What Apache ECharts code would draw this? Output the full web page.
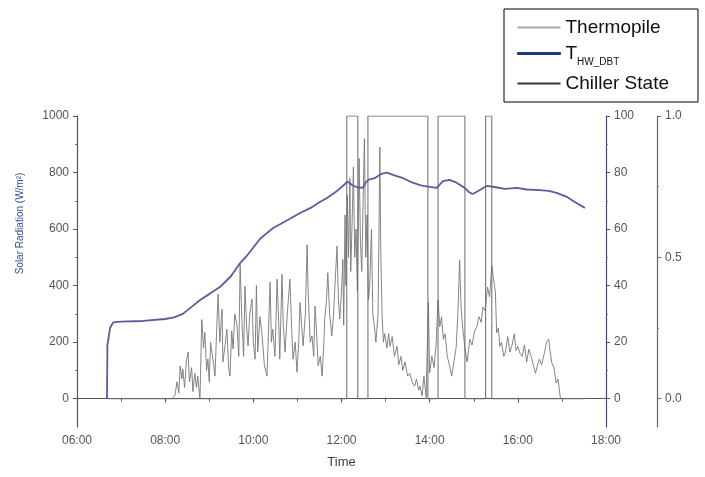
<!DOCTYPE html>
<html>
<head>
<meta charset="utf-8">
<script src="https://cdn.jsdelivr.net/npm/echarts@6/dist/echarts.min.js"></script>
<style>
html,body{margin:0;padding:0;background:#fff;}
#c{width:705px;height:477px;}
</style>
</head>
<body>
<div id="c"></div>
<script>
// ---- data (time in decimal hours) ----
const xTicks = [6, 8, 10, 12, 14, 16, 18];
const leftTicks = [0, 200, 400, 600, 800, 1000];
const rightTicks = [0, 20, 40, 60, 80, 100];
const stateTicks = [0, 0.5, 1.0];

const thermoTime = [8.15,8.22,8.27,8.31,8.34,8.38,8.40,8.44,8.48,8.52,8.55,8.60,8.63,8.67,8.71,8.74,8.78,8.79,
 8.83,8.87,8.90,8.94,8.97,9.00,9.03,9.06,9.10,9.13,9.17,9.20,9.24,9.29,9.31,9.36,9.40,9.44,9.47,9.51,9.54,9.58,9.63,9.67,9.70,9.74,9.78,9.81,9.85,9.88,9.92,9.97,10.00,10.04,10.07,10.10,
 10.15,10.20,10.25,10.31,10.38,10.41,10.44,10.49,10.54,10.58,10.60,10.65,10.68,10.72,10.77,10.83,10.87,10.90,10.95,10.99,11.03,11.06,11.10,11.13,11.18,11.22,11.24,11.29,11.33,11.37,11.40,11.43,11.47,11.52,11.56,11.60,11.62,11.66,11.69,11.73,11.78,11.82,11.85,11.90,11.93,11.96,12.00,12.03,12.05,
 12.08,12.10,12.13,12.16,12.19,12.21,12.24,12.27,12.30,12.33,12.36,12.40,12.43,12.46,12.49,12.52,12.55,12.58,12.61,12.64,12.68,12.71,12.75,12.78,12.83,12.87,12.89,12.92,12.95,12.98,
 13.03,13.07,13.10,13.15,13.20,13.26,13.30,13.35,13.39,13.44,13.50,13.55,13.60,13.66,13.70,13.75,13.78,13.83,13.87,13.92,13.97,
 14.00,14.05,14.10,14.15,14.19,14.23,14.27,14.31,14.35,14.40,14.45,14.50,14.55,14.60,14.64,14.68,14.71,14.75,14.80,14.85,14.91,14.96,15.02,15.07,15.12,15.17,15.21,15.26,15.31,15.36,15.41,15.45,
 15.49,15.52,15.56,15.59,15.63,15.68,15.72,15.77,15.82,15.87,15.92,15.96,16.00,16.05,16.10,16.15,16.20,16.25,16.30,16.35,16.40,16.44,16.49,16.54,16.60,16.65,16.70,16.73,16.77,16.82,16.87,16.91,16.95,16.97];
const thermoVal = [0,10,60,20,116,70,105,40,130,165,60,110,25,90,40,80,10,0,
 280,180,235,100,140,60,200,165,120,80,250,370,200,317,130,190,246,110,80,240,176,300,257,150,475,282,150,398,250,187,300,352,200,140,400,165,
 290,222,120,80,412,200,246,150,423,250,140,440,260,165,300,423,250,140,200,94,200,340,250,187,300,545,398,200,222,150,328,250,117,150,80,200,282,350,446,300,222,300,398,540,350,282,380,493,260,
 650,400,720,500,780,450,620,820,500,600,380,850,550,450,700,920,500,650,350,400,600,300,250,200,300,890,530,300,200,230,
 180,230,185,220,150,185,120,150,100,130,80,90,60,45,70,30,45,10,80,5,340,
 92,150,110,200,350,255,290,210,230,150,117,80,130,180,300,490,330,250,180,130,210,190,240,255,290,270,325,310,395,360,470,420,
 380,233,250,185,200,150,165,220,165,190,230,170,185,160,150,190,130,175,150,120,90,115,140,120,160,200,210,170,127,110,55,70,20,0];

const thwTime = [6.68,6.69,6.75,6.82,7.0,7.5,8.0,8.2,8.4,8.6,8.8,9.0,9.25,9.5,9.7,9.85,10.0,10.15,10.3,10.45,10.7,11.06,11.3,11.5,11.67,11.9,12.05,12.13,12.25,12.35,12.49,12.55,12.62,12.75,12.9,13.03,13.2,13.4,13.6,13.8,14.0,14.16,14.3,14.45,14.6,14.8,14.9,14.98,15.1,15.3,15.5,15.7,15.98,16.2,16.5,16.7,16.88,17.1,17.3,17.52];
const thwVal = [0,19,25,27,27.3,27.5,28.2,28.8,30,32.5,35,37,39.6,43.5,48,50.5,53.5,56.5,58.5,60.4,62.5,65.7,67.5,69.5,71,73.5,75.5,76.8,75.5,74.8,74.6,76.5,77.5,78,79.5,80,79,78,76.5,75.5,74.9,74.6,77,77.4,76.5,74.5,73,72.4,73.5,75.3,74.8,74.2,74.6,74,73.8,73.5,72.8,71.5,69.5,67.5];

const chillerTime = [6.73,12.12,12.37,12.60,13.96,14.19,14.80,15.27,15.41,17.52];
const chillerVal = [0,1,0,1,0,1,0,1,0,0];

// ---- chart ----
const zip = (a, b) => a.map((t, i) => [t, b[i]]);
const FONT = 'Liberation Sans';
const labelStyle = {fontFamily: FONT, fontSize: 12, color: '#555'};
const chart = echarts.init(document.getElementById('c'), null, {renderer: 'canvas'});

chart.setOption({
  animation: false,
  backgroundColor: '#fff',
  grid: {left: 77, right: 99, top: 116, bottom: 50, containLabel: false},
  legend: {
    orient: 'vertical', left: 504, top: 9,
    padding: [9, 29, 9, 13], itemGap: 7, itemWidth: 43, itemHeight: 2, icon: 'rect',
    borderColor: '#000', borderWidth: 1, borderRadius: 0, backgroundColor: '#fff',
    textStyle: {fontFamily: FONT, fontSize: 19, color: '#111',
      rich: {
        m: {fontFamily: FONT, fontSize: 19, color: '#111', verticalAlign: 'bottom'},
        s: {fontFamily: FONT, fontSize: 10, color: '#111', verticalAlign: 'bottom', padding: [0, 0, -4, 0]}
      }},
    formatter: n => n === 'T_HW_DBT' ? '{m|T}{s|HW_DBT}' : n,
    data: [
      {name: 'Thermopile', itemStyle: {color: '#aaaaaa'}},
      {name: 'T_HW_DBT', itemStyle: {color: '#1f3a78', borderColor: '#1f3a78', borderWidth: 1}},
      {name: 'Chiller State', itemStyle: {color: '#333'}}
    ]
  },
  xAxis: {
    type: 'value', min: 6, max: 18, interval: 2,
    axisLine: {lineStyle: {color: '#555', width: 1.2}},
    axisTick: {length: 4, lineStyle: {color: '#555'}},
    minorTick: {show: true, splitNumber: 2, length: 3, lineStyle: {color: '#666'}},
    splitLine: {show: false},
    axisLabel: Object.assign({margin: 8, formatter: v => (v < 10 ? '0' : '') + v + ':00'}, labelStyle),
    name: 'Time', nameLocation: 'middle', nameGap: 29,
    nameTextStyle: {fontFamily: FONT, fontSize: 13, color: '#444'}
  },
  yAxis: [
    {
      type: 'value', position: 'left', min: -100, max: 1000,
      axisLine: {show: true, lineStyle: {color: '#555', width: 1.2}},
      axisTick: {show: true, length: 4, customValues: leftTicks, lineStyle: {color: '#555'}},
      axisLabel: Object.assign({margin: 8, customValues: leftTicks, formatter: v => String(v)}, labelStyle),
      splitLine: {show: false},
      name: 'Solar Radiation (W/m²)', nameLocation: 'middle', nameRotate: 90, nameGap: 52,
      nameTextStyle: {fontFamily: FONT, fontSize: 10, color: '#2b4f9e', padding: [0, 0, 0, 96]}
    },
    {
      type: 'value', position: 'right', min: -10, max: 100,
      axisLine: {show: true, lineStyle: {color: '#454a78', width: 1.2}},
      axisTick: {show: true, length: 4, customValues: rightTicks, lineStyle: {color: '#454a78'}},
      axisLabel: Object.assign({margin: 8, customValues: rightTicks, formatter: v => String(v)}, labelStyle),
      splitLine: {show: false}
    },
    {
      type: 'value', position: 'right', offset: 51, min: -0.1, max: 1.0,
      axisLine: {show: true, lineStyle: {color: '#666', width: 1.2}},
      axisTick: {show: true, length: 4, customValues: stateTicks, lineStyle: {color: '#666'}},
      axisLabel: Object.assign({margin: 8, customValues: stateTicks, formatter: v => v.toFixed(1)}, labelStyle),
      splitLine: {show: false}
    },
    {
      type: 'value', position: 'left', min: -100, max: 1000,
      axisLine: {show: false},
      axisTick: {show: true, length: 2, customValues: [100, 300, 500, 700, 900], lineStyle: {color: '#777'}},
      axisLabel: {show: false}, splitLine: {show: false}
    },
    {
      type: 'value', position: 'right', min: -10, max: 100,
      axisLine: {show: false},
      axisTick: {show: true, length: 2, customValues: [10, 30, 50, 70, 90], lineStyle: {color: '#777'}},
      axisLabel: {show: false}, splitLine: {show: false}
    },
    {
      type: 'value', position: 'right', offset: 51, min: -0.1, max: 1.0,
      axisLine: {show: false},
      axisTick: {show: true, length: 2, customValues: [0.25, 0.75], lineStyle: {color: '#777'}},
      axisLabel: {show: false}, splitLine: {show: false}
    }
  ],
  series: [
    {
      name: 'Thermopile', type: 'line', yAxisIndex: 0, showSymbol: false, symbol: 'none',
      data: zip(thermoTime, thermoVal),
      lineStyle: {color: '#777777', width: 0.9}, itemStyle: {color: '#777777'}, z: 2
    },
    {
      name: 'T_HW_DBT', type: 'line', yAxisIndex: 1, showSymbol: false, symbol: 'none',
      data: zip(thwTime, thwVal),
      lineStyle: {color: '#5a5d9c', width: 1.8}, itemStyle: {color: '#5a5d9c'}, z: 4
    },
    {
      name: 'Chiller State', type: 'line', yAxisIndex: 2, showSymbol: false, symbol: 'none', step: 'end',
      data: zip(chillerTime, chillerVal),
      lineStyle: {color: '#6a6a6a', width: 1}, itemStyle: {color: '#6a6a6a'}, z: 3
    }
  ]
});
</script>
</body>
</html>
